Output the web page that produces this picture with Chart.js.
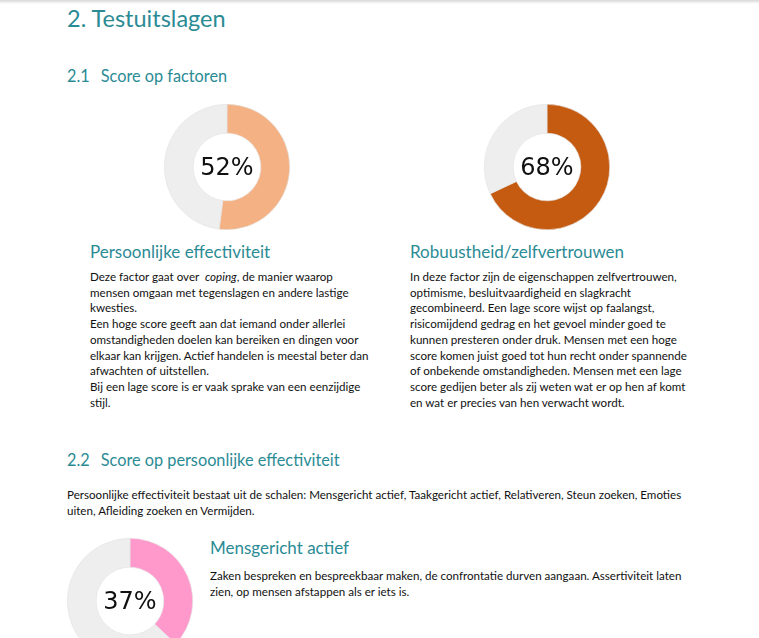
<!DOCTYPE html>
<html>
<head>
<meta charset="utf-8">
<script src="https://cdn.jsdelivr.net/npm/chart.js@4/dist/chart.umd.min.js"></script>
<style>
  html,body{margin:0;padding:0;background:#fff;width:759px;height:638px;overflow:hidden;font-family:Lato,"Open Sans",sans-serif;color:#111;}
  .shadow{position:absolute;left:0;top:0;width:759px;height:4px;background:linear-gradient(#d8d8d8,#ffffff);}
  .abs{position:absolute;white-space:nowrap;}
  .h1{font-size:23.5px;color:#2b8b95;line-height:28px;}
  .h2{font-size:16.3px;color:#2b8b95;line-height:20px;}
  .h3{font-size:17px;color:#2b8b95;line-height:20px;}
  .p{font-size:11.6px;line-height:15.7px;color:#111;}
  .wrap{position:absolute;}
  .pct{position:absolute;left:0;top:0;width:100%;height:100%;display:flex;align-items:center;justify-content:center;font-family:"DejaVu Sans",sans-serif;font-size:24px;color:#111;pointer-events:none;}
</style>
</head>
<body>
<div class="shadow"></div>
<div class="abs h1" style="left:67px;top:4px;">2. Testuitslagen</div>
<div class="abs h2" style="left:67px;top:66px;">2.1<span style="display:inline-block;width:11px"></span>Score op factoren</div>

<div class="wrap" id="w0" style="left:162px;top:102px;width:130px;height:130px;"><canvas id="c0"></canvas><div class="pct" id="t0"></div></div>
<div class="wrap" id="w1" style="left:482px;top:102px;width:130px;height:130px;"><canvas id="c1"></canvas><div class="pct" id="t1"></div></div>

<div class="abs h3" style="left:90px;top:242px;" id="n0"></div>
<div class="abs p" style="left:90px;top:269px;">Deze factor gaat over&nbsp; <i>coping</i>, de manier waarop<br>mensen omgaan met tegenslagen en andere lastige<br>kwesties.<br>Een hoge score geeft aan dat iemand onder allerlei<br>omstandigheden doelen kan bereiken en dingen voor<br>elkaar kan krijgen. Actief handelen is meestal beter dan<br>afwachten of uitstellen.<br>Bij een lage score is er vaak sprake van een eenzijdige<br>stijl.</div>

<div class="abs h3" style="left:410px;top:242px;" id="n1"></div>
<div class="abs p" style="left:410px;top:269px;">In deze factor zijn de eigenschappen zelfvertrouwen,<br>optimisme, besluitvaardigheid en slagkracht<br>gecombineerd. Een lage score wijst op faalangst,<br>risicomijdend gedrag en het gevoel minder goed te<br>kunnen presteren onder druk. Mensen met een hoge<br>score komen juist goed tot hun recht onder spannende<br>of onbekende omstandigheden. Mensen met een lage<br>score gedijen beter als zij weten wat er op hen af komt<br>en wat er precies van hen verwacht wordt.</div>

<div class="abs h2" style="left:67px;top:450px;">2.2<span style="display:inline-block;width:11px"></span>Score op persoonlijke effectiviteit</div>
<div class="abs p" style="left:67px;top:487px;">Persoonlijke effectiviteit bestaat uit de schalen: Mensgericht actief, Taakgericht actief, Relativeren, Steun zoeken, Emoties<br>uiten, Afleiding zoeken en Vermijden.</div>

<div class="wrap" id="w2" style="left:65px;top:536px;width:130px;height:130px;"><canvas id="c2"></canvas><div class="pct" id="t2"></div></div>
<div class="abs h3" style="left:210px;top:538px;" id="n2"></div>
<div class="abs p" style="left:210px;top:568px;">Zaken bespreken en bespreekbaar maken, de confrontatie durven aangaan. Assertiviteit laten<br>zien, op mensen afstappen als er iets is.</div>

<script>
const factorNames = ["Persoonlijke effectiviteit", "Robuustheid/zelfvertrouwen", "Mensgericht actief"];
const scores = [52, 68, 37];
const scoreColors = ["#f4b183", "#c55a11", "#ff99cc"];
const restColor = "#eeeeee";

factorNames.forEach((name, i) => {
  document.getElementById("n" + i).textContent = name;
  document.getElementById("t" + i).textContent = scores[i] + "%";
  new Chart(document.getElementById("c" + i), {
    type: "doughnut",
    data: {
      labels: [name, ""],
      datasets: [{
        data: [scores[i], 100 - scores[i]],
        backgroundColor: [scoreColors[i], restColor],
        borderColor: "#e2e2e2",
        borderWidth: 0.6
      }]
    },
    options: {
      responsive: true,
      maintainAspectRatio: false,
      animation: false,
      cutout: "54%",
      layout: { padding: 2 },
      plugins: { legend: { display: false }, tooltip: { enabled: false } }
    }
  });
});
</script>
</body>
</html>
